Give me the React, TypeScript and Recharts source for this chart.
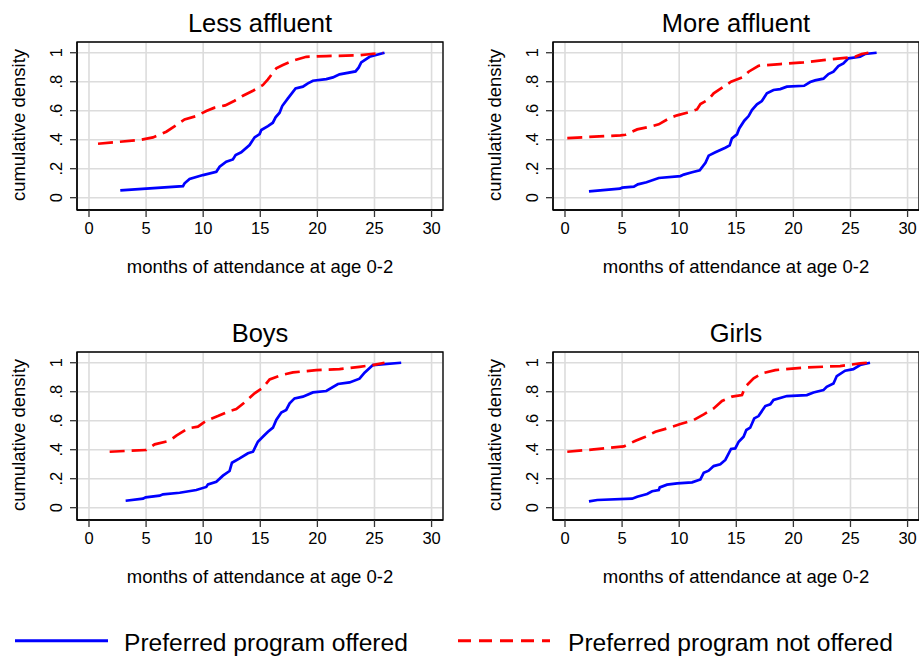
import { LineChart, Line, XAxis, YAxis, CartesianGrid, ReferenceArea } from "recharts";

// Cumulative density of months of attendance at age 0-2
const lessAffluentOffered: [number, number][] = [
  [2.74, 0.05], [8.23, 0.08], [8.37, 0.099], [8.81, 0.129], [9.98, 0.156], [11.15, 0.179],
  [11.44, 0.214], [12.02, 0.248], [12.6, 0.264], [12.84, 0.294], [13.33, 0.313], [14.06, 0.363],
  [14.5, 0.416], [14.94, 0.439], [15.09, 0.467], [15.67, 0.494], [16.1, 0.517], [16.34, 0.554],
  [16.69, 0.586], [16.92, 0.632], [17.42, 0.685], [18.09, 0.754], [18.73, 0.766], [19.17, 0.789],
  [19.61, 0.807], [20.78, 0.818], [21.36, 0.83], [21.94, 0.851], [23.34, 0.871], [23.61, 0.897],
  [23.84, 0.933], [24.57, 0.972], [25.88, 1.0],
];
const lessAffluentNotOffered: [number, number][] = [
  [0.79, 0.372], [4.44, 0.398], [5.6, 0.416], [6.77, 0.455], [7.65, 0.501], [8.37, 0.54],
  [9.4, 0.563], [10.27, 0.598], [11.0, 0.621], [11.93, 0.637], [12.75, 0.669], [13.48, 0.703],
  [14.36, 0.738], [15.23, 0.777], [15.67, 0.816], [16.4, 0.892], [16.98, 0.915], [17.86, 0.945],
  [19.03, 0.972], [20.78, 0.977], [23.69, 0.982], [24.72, 0.991], [25.74, 1.0],
];
const moreAffluentOffered: [number, number][] = [
  [2.1, 0.044], [4.81, 0.062], [5.01, 0.069], [6.03, 0.076], [6.38, 0.092], [7.14, 0.106],
  [8.21, 0.136], [10.11, 0.149], [10.4, 0.159], [11.13, 0.175], [11.8, 0.189], [12.3, 0.241],
  [12.58, 0.29], [13.17, 0.313], [14.04, 0.345], [14.42, 0.361], [14.62, 0.409], [15.06, 0.437],
  [15.26, 0.478], [15.7, 0.531], [16.08, 0.563], [16.37, 0.605], [16.81, 0.644], [17.24, 0.667],
  [17.68, 0.72], [18.26, 0.743], [18.85, 0.749], [19.43, 0.766], [20.94, 0.772], [21.47, 0.798],
  [21.9, 0.809], [22.63, 0.821], [23.07, 0.853], [23.51, 0.869], [23.94, 0.908], [24.38, 0.926],
  [24.82, 0.961], [25.84, 0.972], [26.27, 0.991], [27.29, 1.0],
];
const moreAffluentNotOffered: [number, number][] = [
  [0.2, 0.411], [4.86, 0.43], [5.3, 0.434], [6.32, 0.471], [7.49, 0.49], [8.21, 0.506],
  [9.23, 0.552], [9.82, 0.568], [10.84, 0.589], [11.56, 0.609], [11.86, 0.646], [12.58, 0.678],
  [13.02, 0.72], [13.89, 0.766], [14.54, 0.8], [15.64, 0.834], [16.08, 0.869], [16.95, 0.91],
  [18.85, 0.922], [20.89, 0.933], [22.63, 0.949], [24.09, 0.961], [25.4, 0.972], [25.98, 0.991],
  [26.57, 1.0],
];
const boysOffered: [number, number][] = [
  [3.21, 0.048], [4.73, 0.062], [4.96, 0.071], [6.19, 0.083], [6.48, 0.092], [7.94, 0.103],
  [9.4, 0.122], [10.27, 0.143], [10.42, 0.161], [11.15, 0.179], [11.73, 0.221], [12.31, 0.253],
  [12.52, 0.31], [13.19, 0.34], [13.92, 0.375], [14.36, 0.386], [14.79, 0.455], [15.29, 0.494],
  [15.67, 0.524], [16.11, 0.552], [16.4, 0.605], [16.84, 0.657], [17.27, 0.674], [17.57, 0.72],
  [18.0, 0.754], [18.73, 0.766], [19.61, 0.795], [20.78, 0.805], [21.8, 0.853], [22.82, 0.864],
  [23.69, 0.89], [24.13, 0.931], [24.86, 0.984], [27.34, 1.0],
];
const boysNotOffered: [number, number][] = [
  [1.81, 0.386], [5.02, 0.398], [5.75, 0.437], [7.06, 0.462], [7.65, 0.497], [8.67, 0.547],
  [9.54, 0.559], [10.27, 0.6], [11.29, 0.632], [12.31, 0.667], [12.9, 0.68], [13.63, 0.726],
  [14.5, 0.789], [15.23, 0.828], [15.82, 0.885], [16.84, 0.915], [17.86, 0.933], [19.9, 0.949],
  [21.94, 0.956], [23.69, 0.972], [24.86, 0.984], [25.88, 1.0],
];
const girlsOffered: [number, number][] = [
  [2.1, 0.044], [2.83, 0.053], [5.88, 0.062], [6.32, 0.076], [7.19, 0.094], [7.63, 0.113],
  [8.21, 0.122], [8.3, 0.14], [8.94, 0.159], [9.82, 0.168], [11.13, 0.175], [11.86, 0.195],
  [12.15, 0.241], [12.58, 0.255], [13.02, 0.287], [13.6, 0.299], [14.04, 0.329], [14.54, 0.405],
  [14.91, 0.409], [15.21, 0.455], [15.64, 0.49], [15.88, 0.536], [16.22, 0.552], [16.57, 0.616],
  [16.95, 0.632], [17.54, 0.701], [17.98, 0.713], [18.26, 0.743], [19.43, 0.77], [21.18, 0.777],
  [21.76, 0.795], [22.63, 0.811], [22.92, 0.834], [23.51, 0.857], [23.8, 0.908], [24.53, 0.945],
  [25.25, 0.956], [25.84, 0.984], [26.71, 1.0],
];
const girlsNotOffered: [number, number][] = [
  [0.2, 0.386], [2.53, 0.402], [5.16, 0.423], [6.18, 0.462], [7.05, 0.49], [7.92, 0.524],
  [8.94, 0.547], [10.11, 0.577], [11.27, 0.605], [12.15, 0.644], [13.02, 0.685], [13.75, 0.736],
  [14.62, 0.766], [15.5, 0.777], [15.79, 0.834], [16.52, 0.892], [17.24, 0.926], [18.41, 0.949],
  [21.18, 0.968], [24.09, 0.977], [25.84, 0.995], [26.71, 1.0],
];

const PANEL_TITLES = ["Less affluent", "More affluent", "Boys", "Girls"];
const X_TICKS = [0, 5, 10, 15, 20, 25, 30];
const Y_TICKS = [0, 0.2, 0.4, 0.6, 0.8, 1];
const X_LABEL = "months of attendance at age 0-2";
const Y_LABEL = "cumulative density";
const LEGEND_LABELS = ["Preferred program offered", "Preferred program not offered"];

const X_DOMAIN: [number, number] = [-1.05, 31.0];
const Y_DOMAIN: [number, number] = [-0.085, 1.074];
const FONT = "'Liberation Sans', Arial, Helvetica, sans-serif";
const BLUE = "#0000ff";
const RED = "#ff0000";

const toPoints = (pairs: [number, number][]) => pairs.map(([x, y]) => ({ x, y }));

const panels = [
  { title: PANEL_TITLES[0], offered: lessAffluentOffered, notOffered: lessAffluentNotOffered, left: 0, top: 0, width: 460 },
  { title: PANEL_TITLES[1], offered: moreAffluentOffered, notOffered: moreAffluentNotOffered, left: 476, top: 0, width: 443 },
  { title: PANEL_TITLES[2], offered: boysOffered, notOffered: boysNotOffered, left: 0, top: 310, width: 460 },
  { title: PANEL_TITLES[3], offered: girlsOffered, notOffered: girlsNotOffered, left: 476, top: 310, width: 443 },
];

// Stata style y ticks: ".2" rather than "0.2", rotated to read upwards
function YTick(props: any) {
  const { x, y, payload } = props;
  const v = payload.value;
  const label = v === 0 || v === 1 ? String(v) : String(v).replace(/^0/, "");
  const bx = x - 8;
  return (
    <text x={bx} y={y} transform={`rotate(-90 ${bx} ${y})`} textAnchor="middle" fontSize={16.5} fill="#000" fontFamily={FONT}>
      {label}
    </text>
  );
}

function Panel({ title, offered, notOffered, left, top, width }: (typeof panels)[number]) {
  return (
    <div style={{ position: "absolute", left, top, width, height: 290 }}>
      <LineChart width={width} height={240} margin={{ top: 42, right: width - 443, bottom: 0, left: 0 }}>
        <CartesianGrid stroke="#dcdcdc" strokeWidth={1.6} />
        <XAxis
          type="number"
          dataKey="x"
          domain={X_DOMAIN}
          ticks={X_TICKS}
          allowDataOverflow
          height={30}
          tick={{ fill: "#000", fontSize: 16.5, fontFamily: FONT }}
          tickSize={7}
          tickMargin={5}
          tickLine={{ stroke: "#333", strokeWidth: 1.3 }}
          axisLine={{ stroke: "#000", strokeWidth: 1.3 }}
        />
        <YAxis
          type="number"
          dataKey="y"
          domain={Y_DOMAIN}
          ticks={Y_TICKS}
          allowDataOverflow
          width={77}
          tick={<YTick />}
          tickSize={7}
          tickMargin={0}
          tickLine={{ stroke: "#333", strokeWidth: 1.3 }}
          axisLine={{ stroke: "#000", strokeWidth: 1.3 }}
        />
        <ReferenceArea
          x1={X_DOMAIN[0]}
          x2={X_DOMAIN[1]}
          y1={Y_DOMAIN[0]}
          y2={Y_DOMAIN[1]}
          fill="none"
          stroke="#000"
          strokeWidth={1.3}
          ifOverflow="visible"
        />
        <Line
          data={toPoints(offered)}
          dataKey="y"
          type="linear"
          stroke={BLUE}
          strokeWidth={2.7}
          dot={false}
          isAnimationActive={false}
        />
        <Line
          data={toPoints(notOffered)}
          dataKey="y"
          type="linear"
          stroke={RED}
          strokeWidth={2.7}
          strokeDasharray="15 7"
          dot={false}
          isAnimationActive={false}
        />
      </LineChart>
      <svg width={width} height={290} style={{ position: "absolute", left: 0, top: 0, pointerEvents: "none" }}>
        <text x={260} y={32} textAnchor="middle" fontSize={25.5} fontFamily={FONT} fill="#000">
          {title}
        </text>
        <text x={24.5} y={125} transform="rotate(-90 24.5 125)" textAnchor="middle" fontSize={18.5} fontFamily={FONT} fill="#000">
          {Y_LABEL}
        </text>
        <text x={260} y={273} textAnchor="middle" fontSize={18.5} fontFamily={FONT} fill="#000">
          {X_LABEL}
        </text>
      </svg>
    </div>
  );
}

export default function App() {
  return (
    <div style={{ position: "absolute", left: 0, top: 0, width: 919, height: 656, background: "#fff", overflow: "hidden" }}>
      {panels.map((p) => (
        <Panel key={p.title} {...p} />
      ))}
      <svg width={919} height={40} style={{ position: "absolute", left: 0, top: 616 }}>
        <line x1={15} y1={24.7} x2={108} y2={24.7} stroke={BLUE} strokeWidth={3} />
        <text x={124} y={35} fontSize={24.6} fontFamily={FONT} fill="#000">
          {LEGEND_LABELS[0]}
        </text>
        <line x1={458} y1={24.7} x2={550} y2={24.7} stroke={RED} strokeWidth={3} strokeDasharray="13 8" />
        <text x={568} y={35} fontSize={24.6} fontFamily={FONT} fill="#000">
          {LEGEND_LABELS[1]}
        </text>
      </svg>
    </div>
  );
}
